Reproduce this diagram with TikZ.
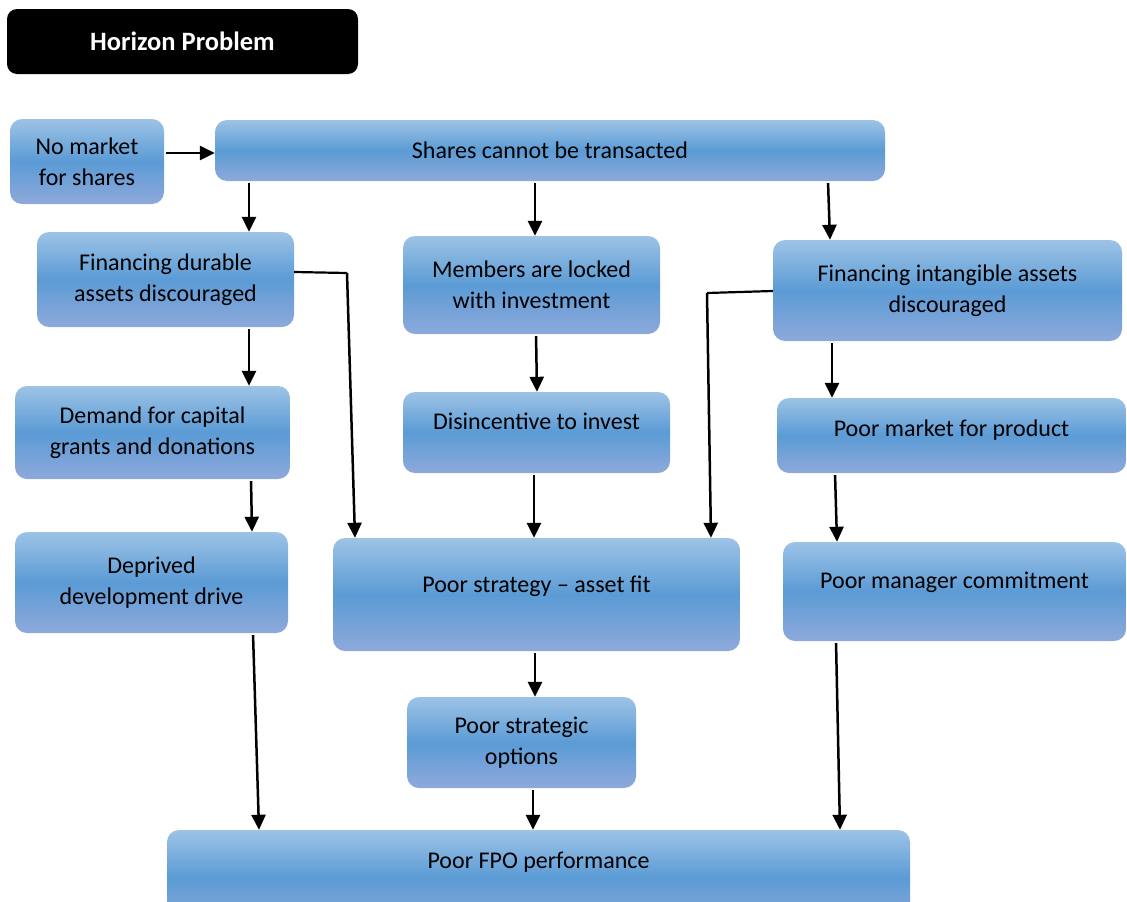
\documentclass[tikz,border=0pt]{standalone}
\usepackage{fontspec}
\setmainfont{Carlito}
\usetikzlibrary{arrows.meta}

\definecolor{bluetop}{RGB}{157,195,230}
\definecolor{bluemid}{RGB}{91,155,213}
\definecolor{bluebot}{RGB}{142,169,219}

\tikzset{
  box/.style={rounded corners=12pt, top color=bluetop, bottom color=bluebot,
    middle color=bluemid, draw=none, align=center, inner sep=0pt,
    font=\fontsize{24}{31}\selectfont, text=black},
  lift/.style={text height=17pt, text depth=6pt+2*#1},
  titlebox/.style={rounded corners=10pt, fill=black, text=white,
    font=\fontsize{26.5}{32}\selectfont\bfseries, inner sep=0pt},
  arr/.style={line width=2.5pt, -{Triangle[length=15pt,width=14pt]}, shorten <=2pt},
  seg/.style={line width=2.2pt},
}

\begin{document}
\begin{tikzpicture}[x=1pt,y=-1pt]
\useasboundingbox (0,0) rectangle (1127,902);
\clip (0,0) rectangle (1127,902);

% title
\node[titlebox, minimum width=351, minimum height=65] (title) at (182.5,41.5) {Horizon Problem};

% boxes
\node[box, minimum width=154, minimum height=85] (nomkt) at (87,161.5) {No market\\for shares};
\node[box, minimum width=670, minimum height=61] (shares) at (550,150.5) {Shares cannot be transacted};
\node[box, minimum width=257, minimum height=95] (fdur) at (165.5,279.5) {Financing durable\\assets discouraged};
\node[box, minimum width=257, minimum height=98] (members) at (531.5,285) {Members are locked\\with investment};
\node[box, minimum width=349, minimum height=101] (fint) at (947.5,290.5) {Financing intangible assets\\discouraged};
\node[box, minimum width=275, minimum height=93] (demand) at (152.5,432.5) {Demand for capital\\grants and donations};
\node[box, lift=8.5pt, minimum width=267, minimum height=81] (disinc) at (536.5,432.5) {Disincentive to invest};
\node[box, lift=4.5pt, minimum width=349, minimum height=75] (pmkt) at (951.5,435.5) {Poor market for product};
\node[box, minimum width=273, minimum height=101] (deprived) at (151.5,582.5) {Deprived\\development drive};
\node[box, lift=7.5pt, minimum width=407, minimum height=113] (strategy) at (536.5,594.5) {Poor strategy -- asset fit};
\node[box, lift=8.5pt, minimum width=343, minimum height=99] (manager) at (954.5,591.5) {Poor manager commitment};
\node[box, minimum width=229, minimum height=91] (options) at (521.5,742.5) {Poor strategic\\options};
\node[box, lift=15.5pt, minimum width=743, minimum height=96] (fpo) at (538.5,878) {Poor FPO performance};

% bend points of the elbow connectors
\coordinate (bendL) at (347,273);
\coordinate (bendR) at (707,293);

% connectors
\draw[arr] (nomkt.east |- 0,153) -- (shares.west |- 0,153);
\draw[arr] (shares.south -| 249,0) -- (fdur.north -| 249,0);
\draw[arr] (shares.south -| 535,0) -- (members.north -| 535,0);
\draw[arr] (shares.south -| 828,0) -- (fint.north -| 830,0);

\draw[seg] (fdur.east |- 0,272) -- (bendL);
\draw[arr, shorten <=0pt] (bendL) -- (strategy.north -| 355,0);
\draw[seg] (fint.west |- 0,291) -- (bendR);
\draw[arr, shorten <=0pt] (bendR) -- (strategy.north -| 711,0);

\draw[arr] (fdur.south -| 249,0) -- (demand.north -| 249,0);
\draw[arr] (members.south -| 536,0) -- (disinc.north -| 537,0);
\draw[arr] (fint.south -| 832,0) -- (pmkt.north -| 832,0);

\draw[arr] (demand.south -| 251,0) -- (deprived.north -| 252,0);
\draw[arr] (disinc.south -| 534,0) -- (strategy.north -| 534,0);
\draw[arr] (pmkt.south -| 835,0) -- (manager.north -| 837,0);

\draw[arr] (strategy.south -| 535,0) -- (options.north -| 535,0);

\draw[arr] (deprived.south -| 253,0) -- (fpo.north -| 259,0);
\draw[arr] (options.south -| 533,0) -- (fpo.north -| 533,0);
\draw[arr] (manager.south -| 836,0) -- (fpo.north -| 840,0);
\end{tikzpicture}
\end{document}
